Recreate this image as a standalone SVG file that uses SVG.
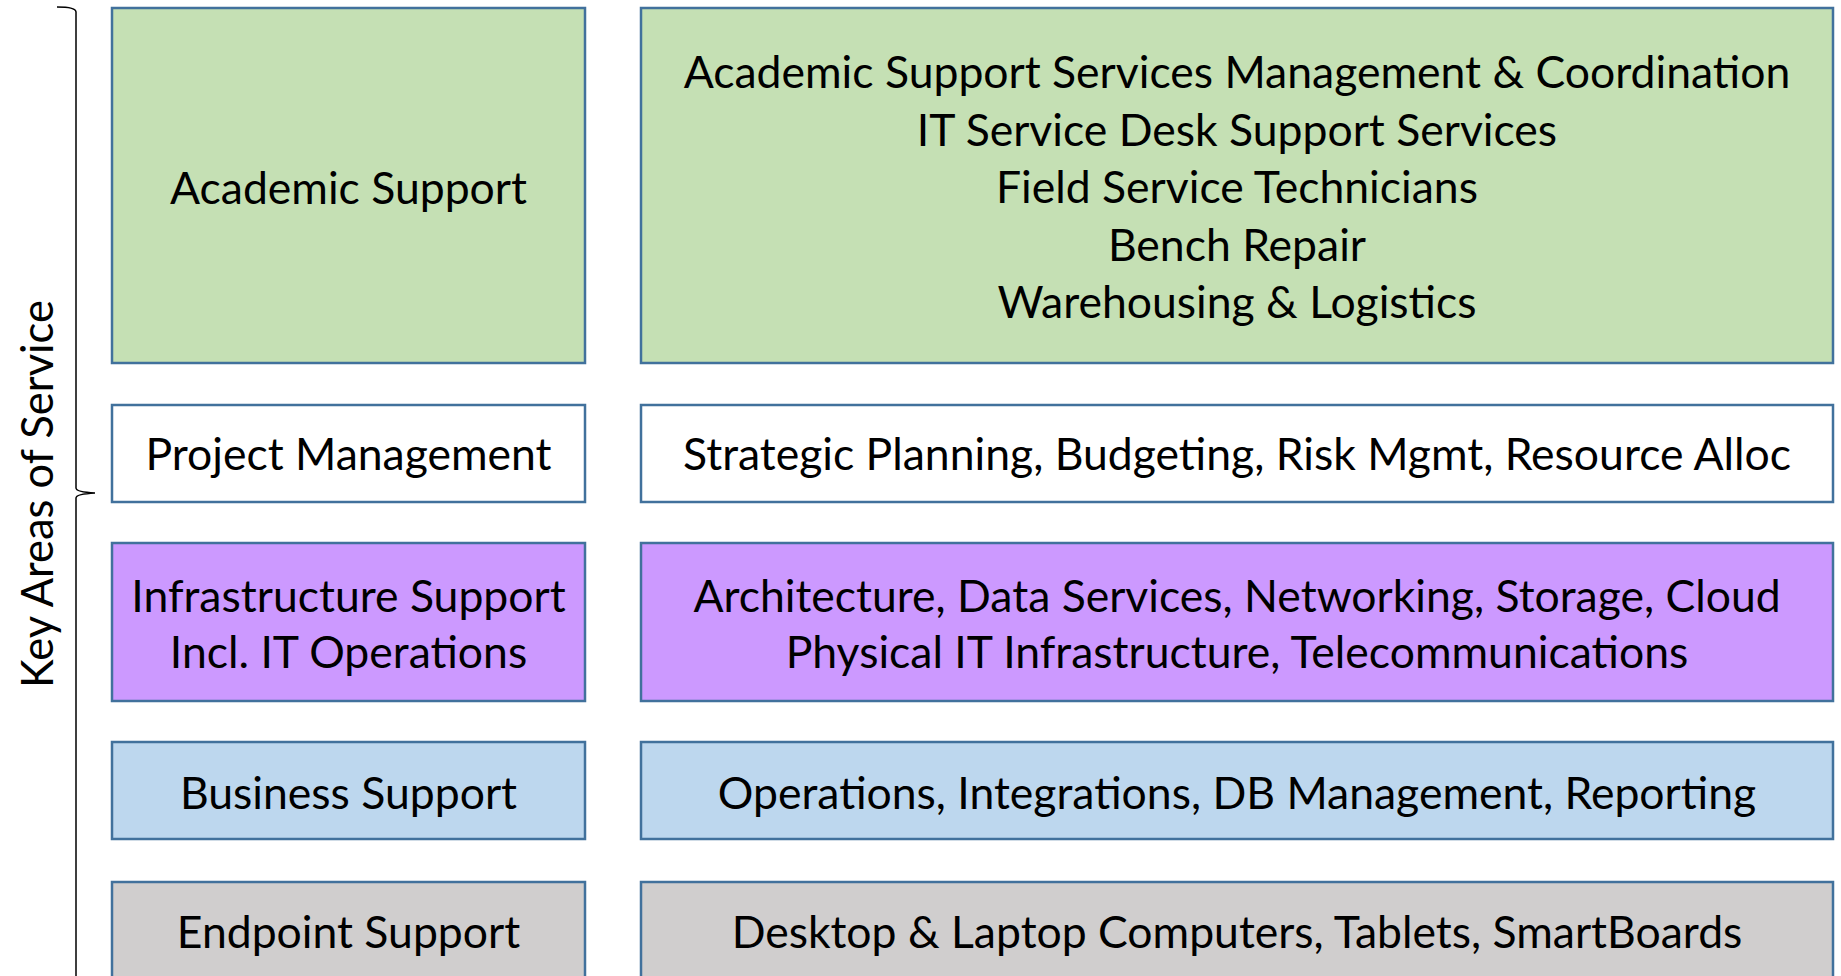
<svg xmlns="http://www.w3.org/2000/svg" width="1841" height="976" viewBox="0 0 1841 976">
<style>
.box{stroke:#41719C;stroke-width:2.5}
.g{fill:#C5E0B4}.w{fill:#FFFFFF}.p{fill:#CC99FF}.b{fill:#BDD7EE}.k{fill:#D0CECE}
text{font-family:Lato,"Open Sans",sans-serif;font-size:44.5px;fill:#000;text-anchor:middle;dominant-baseline:central}
.brace{fill:none;stroke:#000;stroke-width:1.5}
</style>
<rect width="1841" height="976" fill="#fff"/>
<g id="brace-label">
<path class="brace" d="M57,7 Q76,7 76,12 L76,488 Q76,492 95,493 Q76,494 76,498 L76,976"/>
<text transform="translate(36,494) rotate(-90)" style="font-size:43.5px">Key Areas of Service</text>
</g>
<g id="academic-support"><rect class="box g" x="112" y="8" width="473" height="355"/><text x="348.5" y="186">Academic Support</text></g>
<g id="academic-support-detail"><rect class="box g" x="641" y="8" width="1192" height="355"/>
<text x="1237" y="70.8">Academic Support Services Management &amp; Coordination</text>
<text x="1237" y="128.3">IT Service Desk Support Services</text>
<text x="1237" y="185.9">Field Service Technicians</text>
<text x="1237" y="243.4">Bench Repair</text>
<text x="1237" y="300.9">Warehousing &amp; Logistics</text></g>
<g id="project-management"><rect class="box w" x="112" y="405" width="473" height="97"/><text x="348.5" y="452.2">Project Management</text></g>
<g id="project-management-detail"><rect class="box w" x="641" y="405" width="1192" height="97"/><text x="1237" y="452.2">Strategic Planning, Budgeting, Risk Mgmt, Resource Alloc</text></g>
<g id="infrastructure-support"><rect class="box p" x="112" y="543" width="473" height="158"/><text x="348.5" y="594.2">Infrastructure Support</text><text x="348.5" y="650.8">Incl. IT Operations</text></g>
<g id="infrastructure-support-detail"><rect class="box p" x="641" y="543" width="1192" height="158"/><text x="1237" y="594.2">Architecture, Data Services, Networking, Storage, Cloud</text><text x="1237" y="650.8">Physical IT Infrastructure, Telecommunications</text></g>
<g id="business-support"><rect class="box b" x="112" y="742" width="473" height="97"/><text x="348.5" y="791.7">Business Support</text></g>
<g id="business-support-detail"><rect class="box b" x="641" y="742" width="1192" height="97"/><text x="1237" y="791.7">Operations, Integrations, DB Management, Reporting</text></g>
<g id="endpoint-support"><rect class="box k" x="112" y="882" width="473" height="110"/><text x="348.5" y="930.2">Endpoint Support</text></g>
<g id="endpoint-support-detail"><rect class="box k" x="641" y="882" width="1192" height="110"/><text x="1237" y="930.2">Desktop &amp; Laptop Computers, Tablets, SmartBoards</text></g>
</svg>
